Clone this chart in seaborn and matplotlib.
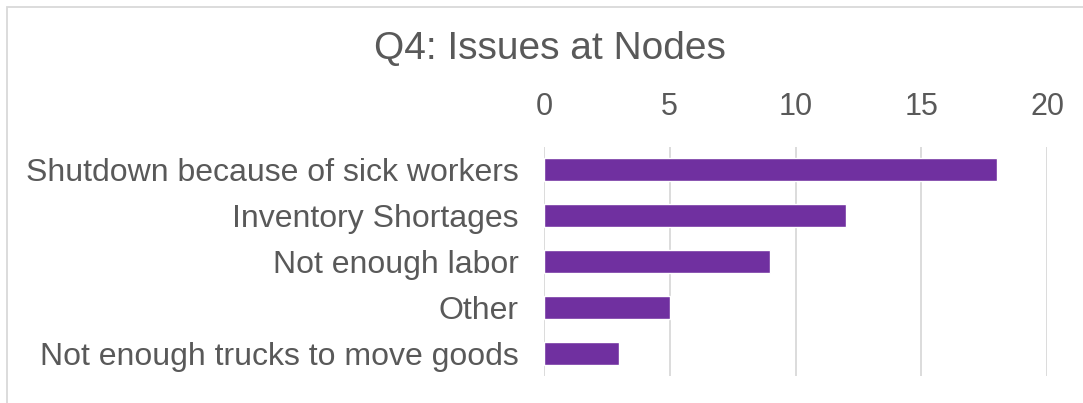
import matplotlib
matplotlib.use("Agg")
import matplotlib.pyplot as plt
import seaborn as sns
import pandas as pd
from matplotlib.patches import Rectangle

categories = ["Shutdown because of sick workers", "Inventory Shortages",
              "Not enough labor", "Other", "Not enough trucks to move goods"]
counts = [18, 12, 9, 5, 3]
xticks = [0, 5, 10, 15, 20]
title = "Q4: Issues at Nodes"

sns.set_theme(style="white")
plt.rcParams['font.family'] = ['Liberation Sans', 'DejaVu Sans']

text_color = "#595959"
grid_color = "#D9D9D9"
bar_color = "#7030A0"

df = pd.DataFrame({"cat": categories, "n": counts})

fig = plt.figure(figsize=(10.83, 4.03), dpi=100)
ax = fig.add_axes([544/1083, 1-376/403, (1047-544)/1083, (376-147)/403])

sns.barplot(data=df, x="n", y="cat", orient="h", color=bar_color,
            saturation=1, width=0.5, ax=ax, zorder=3)

ax.set_xlim(0, 20)
ax.set_ylim(4.5, -0.5)
ax.set_xticks(xticks)
ax.xaxis.tick_top()
ax.tick_params(axis="x", length=0, pad=18, labelsize=22, labelcolor=text_color)
ax.tick_params(axis="y", length=0, pad=18, labelsize=23, labelcolor=text_color)
ax.set_xlabel("")
ax.set_ylabel("")
for s in ax.spines.values():
    s.set_visible(False)
ax.grid(axis="x", color=grid_color, linewidth=1.3, zorder=0)
ax.set_axisbelow(True)

fig.text(550/1083, 1-49/403, title, ha="center", va="center",
         fontsize=28, color=text_color)

fig.patches.append(Rectangle((7/1083, -0.1), 1.2, 1.1 - 7/403,
                             transform=fig.transFigure, fill=False,
                             edgecolor=grid_color, linewidth=1.3))

fig.savefig("out.png", dpi=100)
